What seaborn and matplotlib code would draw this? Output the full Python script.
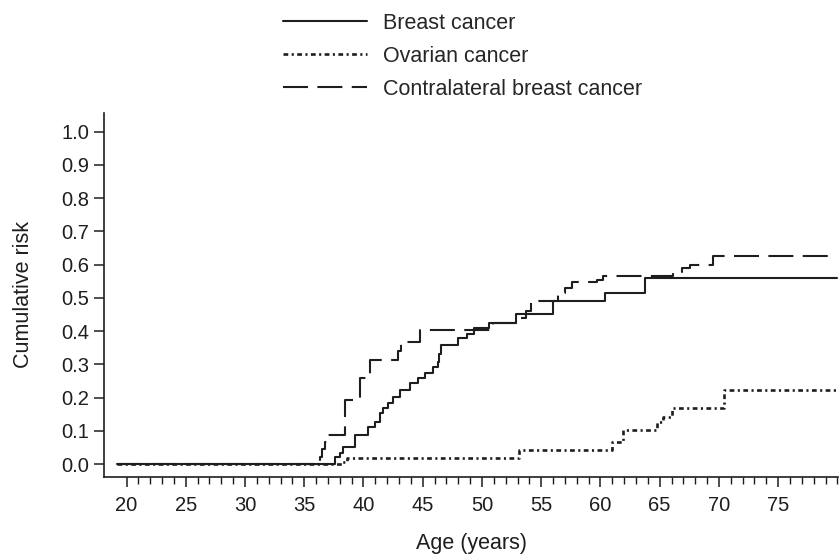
import numpy as np
import pandas as pd
import matplotlib
matplotlib.use('Agg')
import matplotlib.pyplot as plt
import seaborn as sns
from matplotlib.ticker import FixedLocator

# Kaplan-Meier style cumulative risk (age, risk)
breast_age = [19.2, 37.57, 37.99, 38.30, 39.28, 40.41, 40.97, 41.39, 41.67, 42.09, 42.46, 43.08,
              43.92, 44.62, 45.19, 45.89, 46.31, 46.40, 46.55, 48.0, 48.7, 49.3, 50.6, 52.9,
              56.0, 60.4, 63.8, 80.0]
breast_risk = [0.0, 0.022, 0.034, 0.052, 0.087, 0.112, 0.127, 0.153, 0.168, 0.183, 0.203, 0.223,
               0.243, 0.258, 0.273, 0.293, 0.308, 0.33, 0.358, 0.38, 0.39, 0.409, 0.424, 0.45,
               0.49, 0.514, 0.56, 0.56]

ovarian_age = [19.2, 38.2, 38.6, 53.1, 61.0, 61.9, 64.8, 65.3, 66.0, 70.4, 80.0]
ovarian_risk = [0.0, 0.005, 0.017, 0.042, 0.067, 0.102, 0.125, 0.142, 0.168, 0.222, 0.222]

contra_age = [19.2, 36.3, 36.5, 36.75, 37.0, 38.44, 39.7, 40.55, 42.9, 43.2, 44.8, 50.9,
              53.3, 53.7, 54.1, 56.4, 57.0, 57.6, 59.7, 60.2, 66.1, 66.9, 67.6, 69.5, 80.0]
contra_risk = [0.0, 0.02, 0.045, 0.065, 0.087, 0.193, 0.258, 0.313, 0.34, 0.368, 0.403, 0.424,
               0.44, 0.46, 0.491, 0.515, 0.53, 0.549, 0.555, 0.566, 0.579, 0.59, 0.599, 0.625, 0.625]

labels = ['Breast cancer', 'Ovarian cancer', 'Contralateral breast cancer']

df = pd.concat([
    pd.DataFrame({'Age': breast_age, 'Risk': breast_risk, 'Cancer': labels[0]}),
    pd.DataFrame({'Age': ovarian_age, 'Risk': ovarian_risk, 'Cancer': labels[1]}),
    pd.DataFrame({'Age': contra_age, 'Risk': contra_risk, 'Cancer': labels[2]}),
])

sns.set_style('white')
plt.rcParams['font.family'] = ['Liberation Sans', 'DejaVu Sans']

fig = plt.figure(figsize=(8.4, 5.54), dpi=100)
ax = fig.add_axes([104 / 840, 1 - 477 / 554, (838 - 104) / 840, (477 - 113) / 554])

ink = '#1e1e1e'
widths = {labels[0]: 1.5, labels[1]: 1.9, labels[2]: 1.5}
line_dashes = {labels[0]: '', labels[1]: (1.8, 1.3, 0.8, 1.3), labels[2]: (12, 4.5)}

for lab in labels:
    sns.lineplot(data=df[df['Cancer'] == lab], x='Age', y='Risk', color=ink,
                 drawstyle='steps-post', estimator=None, sort=False,
                 linewidth=widths[lab], ax=ax, label=lab)
    if line_dashes[lab]:
        ax.lines[-1].set_dashes(line_dashes[lab])

# legend above the plot, no frame
handles, _ = ax.get_legend_handles_labels()
ax.get_legend().remove()
fig.legend(handles, labels, loc='upper left', bbox_to_anchor=(283 / 840, 1 - 13 / 554),
           frameon=False, fontsize=15.5, handlelength=3.9, handletextpad=0.75,
           labelspacing=0.55, borderpad=0, borderaxespad=0)

ax.set_xlim(18.1, 80.05)
ax.set_ylim(-0.039, 1.056)
ax.set_xticks(np.arange(20, 80, 5))
ax.xaxis.set_minor_locator(FixedLocator(np.arange(20, 81, 1)))
ax.set_yticks(np.arange(0, 1.01, 0.1))
ax.set_yticklabels([f'{v:.1f}' for v in np.arange(0, 1.01, 0.1)])

for s in ['top', 'right']:
    ax.spines[s].set_visible(False)
for s in ['left', 'bottom']:
    ax.spines[s].set_color(ink)
    ax.spines[s].set_linewidth(1.2)

ax.tick_params(axis='both', which='major', direction='out', length=7, width=1.1,
               color=ink, labelsize=14.5, labelcolor=ink, bottom=True, left=True)
ax.tick_params(axis='x', which='minor', direction='out', length=5, width=1.0,
               color=ink, bottom=True)
ax.tick_params(axis='x', pad=7)

ax.set_xlabel('Age (years)', fontsize=15.5, color=ink, labelpad=13)
ax.set_ylabel('Cumulative risk', fontsize=15.5, color=ink, labelpad=20)

fig.savefig('out.png', dpi=100)
